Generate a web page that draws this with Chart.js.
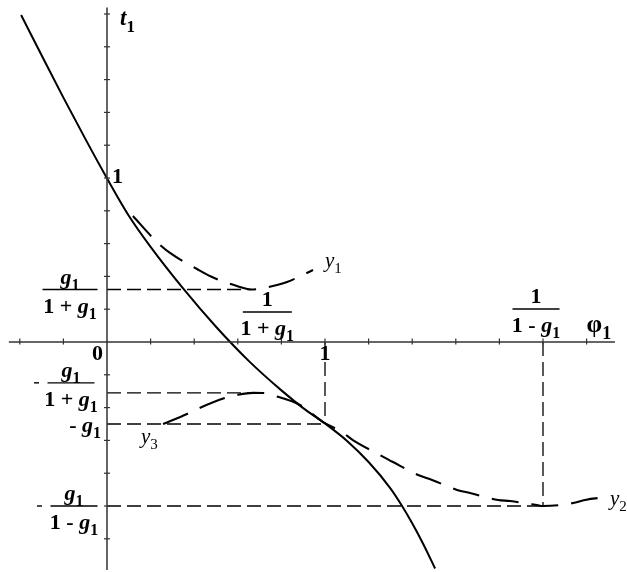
<!DOCTYPE html>
<html>
<head>
<meta charset="utf-8">
<script src="https://cdn.jsdelivr.net/npm/chart.js@4"></script>
<style>
  html, body { margin: 0; padding: 0; background: #ffffff; }
  canvas { display: block; }
</style>
</head>
<body>
<canvas id="plot" width="627" height="572"></canvas>
<script>
// Main solid curve t1(phi1)
const solidPhi = [-0.394, -0.30, -0.20, -0.10, 0.0, 0.10, 0.20, 0.35, 0.50, 0.65, 0.80, 0.90, 1.0, 1.10, 1.20, 1.30, 1.35, 1.40, 1.45, 1.505];
const solidT   = [1.994, 1.748, 1.490, 1.240, 0.998, 0.770, 0.580, 0.325, 0.093, -0.115, -0.295, -0.403, -0.497, -0.602, -0.732, -0.892, -0.992, -1.105, -1.230, -1.381];

// Dashed branch y1 (minimum at 1/(1+g1))
const y1Phi = [0.119, 0.229, 0.289, 0.413, 0.472, 0.596, 0.660, 0.780, 0.826, 0.945];
const y1T   = [0.768, 0.610, 0.543, 0.445, 0.402, 0.341, 0.320, 0.348, 0.366, 0.439];

// Dashed branch y3 -> y2 (maximum near 1/(1+g1), minimum at 1/(1-g1))
const y23Phi = [0.257, 0.367, 0.413, 0.541, 0.596, 0.670, 0.716, 0.771, 0.885, 0.991, 1.078, 1.128, 1.252, 1.312, 1.427, 1.491, 1.606, 1.665, 1.794, 1.849, 1.972, 2.0, 2.138, 2.193, 2.298];
const y23T   = [-0.500, -0.439, -0.409, -0.341, -0.323, -0.310, -0.311, -0.329, -0.384, -0.488, -0.549, -0.598, -0.689, -0.732, -0.811, -0.841, -0.902, -0.921, -0.963, -0.970, -0.994, -1.0, -0.982, -0.963, -0.945];

// Horizontal guide levels and where each guide ends along phi1
const guideT   = [0.32, -0.31, -0.5, -1.0];
const guideEnd = [0.660, 0.680, 1.0, 2.0];
// Vertical guides dropped from the phi1 axis
const dropPhi = [1.0, 2.0];
const dropT   = [-0.5, -1.0];

// Axis extents and tick positions
const phiAxis = [-0.45, 2.33];
const tAxis   = [2.04, -1.39];
const phiTicks = [-0.4, -0.2, 0.2, 0.4, 0.6, 0.8, 1.0, 1.2, 1.4, 1.6, 1.8, 2.0, 2.2];
const tTicks   = [2.0, 1.8, 1.6, 1.4, 1.2, 1.0, 0.8, 0.6, 0.4, 0.2, -0.2, -0.4, -0.6, -0.8, -1.0, -1.2];

const zip = (xs, ys) => xs.map((x, i) => ({ x: x, y: ys[i] }));

const INK = '#000000';
const AXIS = '#333333';
const SERIF = '"Liberation Serif", "DejaVu Serif", serif';

const datasets = [];
// axes
datasets.push({ data: [{ x: phiAxis[0], y: 0 }, { x: phiAxis[1], y: 0 }], borderColor: AXIS, borderWidth: 1.5 });
datasets.push({ data: [{ x: 0, y: tAxis[0] }, { x: 0, y: tAxis[1] }], borderColor: AXIS, borderWidth: 1.5 });
// guides
guideT.forEach((t, i) => {
  datasets.push({ data: [{ x: 0, y: t }, { x: guideEnd[i], y: t }], borderColor: INK, borderWidth: 1.3, borderDash: [14, 6] });
});
dropPhi.forEach((p, i) => {
  datasets.push({ data: [{ x: p, y: 0 }, { x: p, y: dropT[i] }], borderColor: INK, borderWidth: 1.3, borderDash: [14, 6] });
});
// curves
datasets.push({ data: zip(y1Phi, y1T), borderColor: INK, borderWidth: 2.1, borderDash: [27, 13], cubicInterpolationMode: 'monotone' });
datasets.push({ data: zip(y23Phi, y23T), borderColor: INK, borderWidth: 2.1, borderDash: [27, 13], cubicInterpolationMode: 'monotone' });
datasets.push({ data: zip(solidPhi, solidT), borderColor: INK, borderWidth: 2, cubicInterpolationMode: 'monotone' });

datasets.forEach(d => { d.showLine = true; d.pointRadius = 0; d.fill = false; });

// text runs; run = {t, it, sub, light}
function fontOf(r, size) {
  const s = r.sub ? Math.round(size * 0.72) : size;
  return (r.it ? 'italic ' : '') + (r.light ? '' : 'bold ') + s + 'px ' + SERIF;
}
function runWidth(ctx, runs, size) {
  let w = 0;
  runs.forEach(r => { ctx.font = fontOf(r, size); w += ctx.measureText(r.t).width; });
  return w;
}
function drawRuns(ctx, x, y, runs, size, align) {
  const w = runWidth(ctx, runs, size);
  let cx = align === 'center' ? x - w / 2 : align === 'right' ? x - w : x;
  ctx.textAlign = 'left';
  ctx.textBaseline = 'alphabetic';
  runs.forEach(r => {
    ctx.font = fontOf(r, size);
    ctx.fillText(r.t, cx, y + (r.sub ? size * 0.28 : 0));
    cx += ctx.measureText(r.t).width;
  });
  return w;
}
function drawFrac(ctx, cx, barY, num, den, size, barW, minusX) {
  drawRuns(ctx, cx, barY - 6, num, size, 'center');
  drawRuns(ctx, cx, barY + 23, den, size, 'center');
  ctx.beginPath();
  ctx.lineWidth = 1.4;
  ctx.strokeStyle = INK;
  ctx.moveTo(cx - barW / 2, barY);
  ctx.lineTo(cx + barW / 2, barY);
  ctx.stroke();
  if (minusX !== undefined) {
    ctx.beginPath();
    ctx.moveTo(minusX - 3, barY);
    ctx.lineTo(minusX + 2, barY);
    ctx.stroke();
  }
}

const G1 = [{ t: 'g', it: true }, { t: '1', sub: true }];
const ONE = [{ t: '1' }];
const ONE_PLUS_G1 = [{ t: '1 + ' }, { t: 'g', it: true }, { t: '1', sub: true }];
const ONE_MINUS_G1 = [{ t: '1 - ' }, { t: 'g', it: true }, { t: '1', sub: true }];

const decorations = {
  id: 'decorations',
  afterDatasetsDraw(chart) {
    const ctx = chart.ctx;
    const xs = chart.scales.x, ys = chart.scales.y;
    const X = v => xs.getPixelForValue(v), Y = v => ys.getPixelForValue(v);
    ctx.save();
    // tick marks
    ctx.strokeStyle = AXIS;
    ctx.lineWidth = 1.2;
    phiTicks.forEach(p => {
      ctx.beginPath();
      ctx.moveTo(X(p), Y(0) - 3.5);
      ctx.lineTo(X(p), Y(0) + 2.5);
      ctx.stroke();
    });
    tTicks.forEach(t => {
      ctx.beginPath();
      ctx.moveTo(X(0) - 3, Y(t));
      ctx.lineTo(X(0) + 3, Y(t));
      ctx.stroke();
    });
    ctx.fillStyle = INK;
    const S = 22;
    // axis names
    drawRuns(ctx, X(0) + 13, Y(tAxis[0]) + 18, [{ t: 't', it: true }, { t: '1', sub: true }], 23, 'left');
    drawRuns(ctx, X(2.2) + 0, Y(0) - 10, [{ t: 'φ' }, { t: '1', sub: true }], 25, 'left');
    // unit and origin labels
    drawRuns(ctx, X(0) + 5, Y(1) + 5, ONE, S, 'left');
    drawRuns(ctx, X(0) - 4, Y(0) + 18, [{ t: '0' }], S, 'right');
    drawRuns(ctx, X(1), Y(0) + 18, ONE, S, 'center');
    // fractions on the phi1 axis
    drawFrac(ctx, X(1 / 1.5) + 15, Y(0) - 30, ONE, ONE_PLUS_G1, S, 49);
    drawFrac(ctx, X(2) - 7, Y(0) - 33, ONE, ONE_MINUS_G1, S, 47);
    // fractions on the t1 axis
    drawFrac(ctx, X(0) - 37, Y(guideT[0]), G1, ONE_PLUS_G1, S, 55);
    drawFrac(ctx, X(0) - 36, Y(guideT[1]) - 10, G1, ONE_PLUS_G1, S, 47, 37);
    drawRuns(ctx, X(0) - 6, Y(guideT[2]) + 8, [{ t: '- ' }, { t: 'g', it: true }, { t: '1', sub: true }], S, 'right');
    drawFrac(ctx, X(0) - 33, Y(guideT[3]), G1, ONE_MINUS_G1, S, 47, 40);
    // branch names
    const yl = (n) => [{ t: 'y', it: true, light: true }, { t: n, sub: true, light: true }];
    const l1 = y1Phi.length - 1, l2 = y23Phi.length - 1;
    drawRuns(ctx, X(y1Phi[l1]) + 12, Y(y1T[l1]) - 3, yl('1'), 21, 'left');
    drawRuns(ctx, X(y23Phi[0]) - 22, Y(y23T[0]) + 19, yl('3'), 21, 'left');
    drawRuns(ctx, X(y23Phi[l2]) + 2, Y(y23T[l2]) + 8, yl('2'), 21, 'left');
    ctx.restore();
  }
};

new Chart(document.getElementById('plot'), {
  type: 'scatter',
  data: { datasets: datasets },
  options: {
    responsive: false,
    animation: false,
    events: [],
    devicePixelRatio: 1,
    layout: { padding: 0 },
    plugins: { legend: { display: false }, tooltip: { enabled: false } },
    scales: {
      x: { type: 'linear', min: -107 / 218, max: 520 / 218, display: false },
      y: { type: 'linear', min: -230 / 164, max: 342 / 164, display: false }
    }
  },
  plugins: [decorations]
});
</script>
</body>
</html>
